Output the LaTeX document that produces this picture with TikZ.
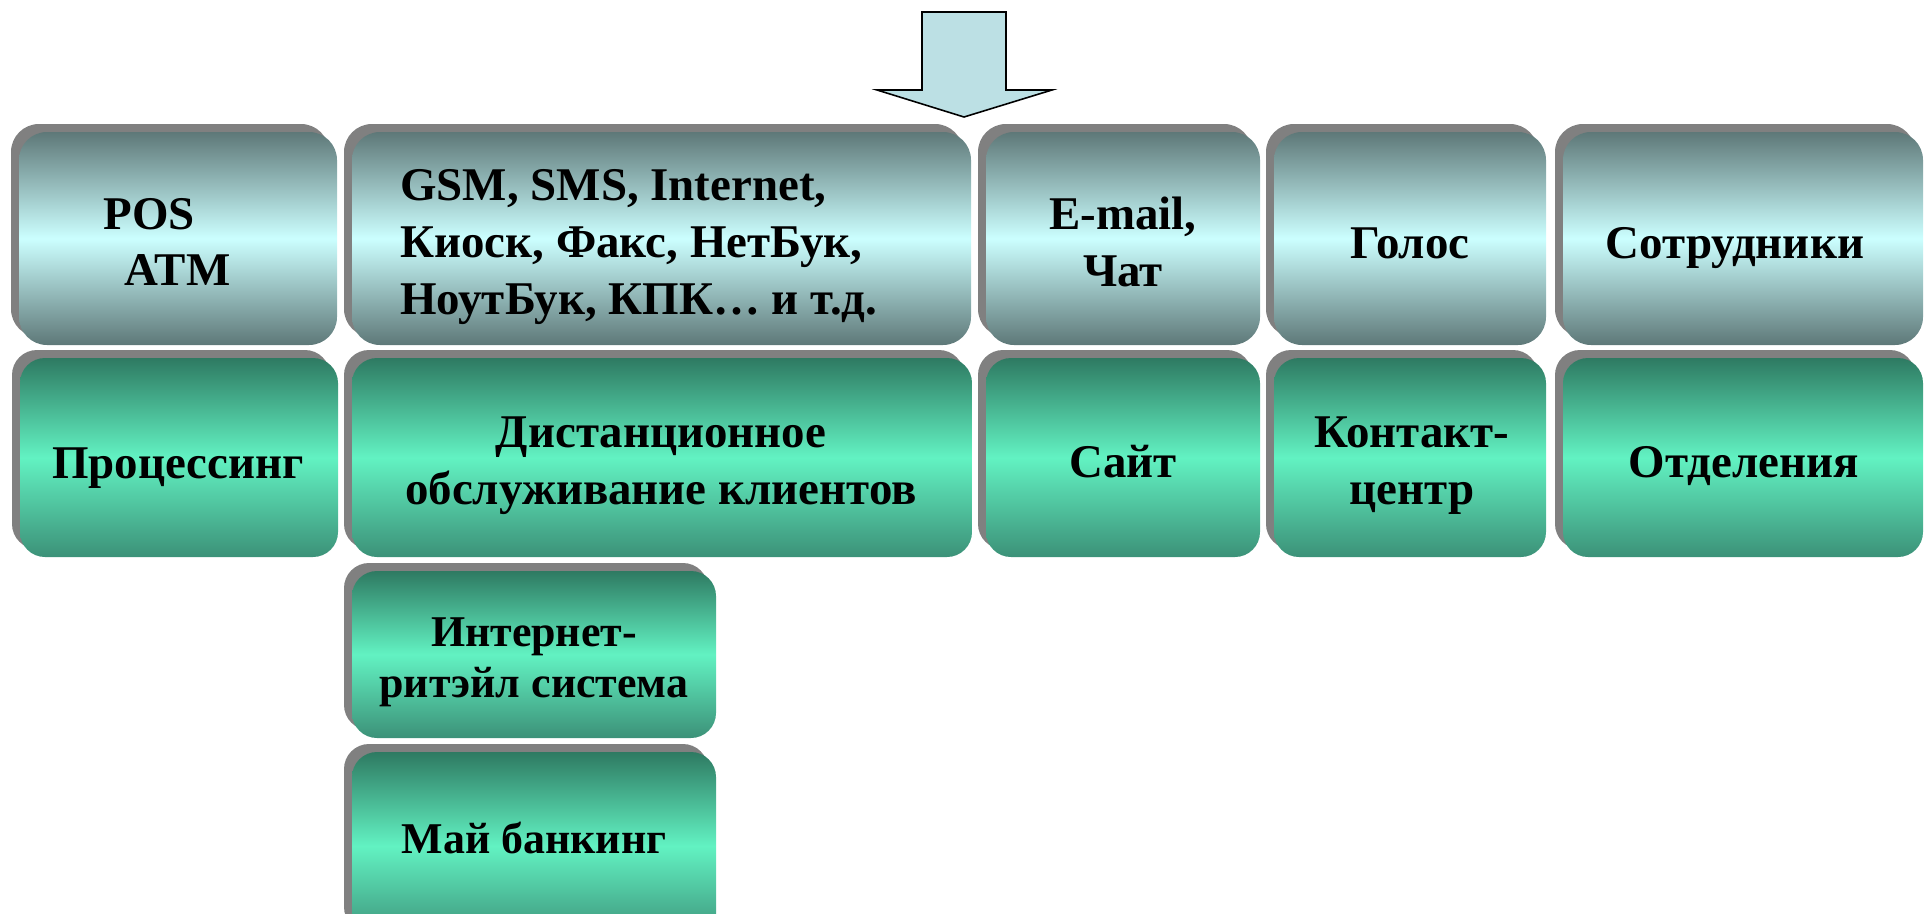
\documentclass[tikz,border=0pt]{standalone}
\usepackage{fontspec}
\setmainfont{Liberation Serif}
\usetikzlibrary{shadows}
\definecolor{grisSombra}{RGB}{128,128,128}
\definecolor{azulOscuro}{RGB}{94,120,120}
\definecolor{azulClaro}{RGB}{204,255,255}
\definecolor{verdeOscuro}{RGB}{46,122,98}
\definecolor{verdeClaro}{RGB}{98,242,194}
\definecolor{verdeMedio}{RGB}{60,145,120}
\definecolor{azulFlecha}{RGB}{188,224,228}

\begin{document}
\begin{tikzpicture}[x=0.02cm, y=-0.02cm,
    sombra/.style={drop shadow={shadow xshift=-0.16cm, shadow yshift=0.16cm, fill=grisSombra, opacity=1}},
    canal/.style={sombra, rounded corners=0.56cm, top color=azulOscuro, bottom color=azulOscuro, middle color=azulClaro},
    sistema/.style={sombra, rounded corners=0.5cm, top color=verdeOscuro, bottom color=verdeMedio, middle color=verdeClaro},
    texto/.style={inner sep=0, font=\bfseries\fontsize{26.7}{32.4}\selectfont, align=center},
    textochico/.style={texto, font=\bfseries\fontsize{25}{29}\selectfont}]
    \useasboundingbox (0,0) rectangle (1927,913);
    \clip (0,0) rectangle (1927,913);

    % Flecha de entrada
    \draw[fill=azulFlecha, line width=0.9pt] (922,12) -- (1006,12) -- (1006,90) -- (1052,90) -- (964,117) -- (877,90) -- (922,90) -- cycle;

    % Canales (fila superior)
    \path[canal] (19,132) rectangle (337,345);
    \path[canal] (352,132) rectangle (971,345);
    \path[canal] (986,132) rectangle (1260,345);
    \path[canal] (1274,132) rectangle (1546,345);
    \path[canal] (1563,132) rectangle (1923,345);

    % Sistemas (segunda fila)
    \path[sistema] (20,358) rectangle (338,557);
    \path[sistema] (352,358) rectangle (972,557);
    \path[sistema] (986,358) rectangle (1260,557);
    \path[sistema] (1274,358) rectangle (1546,557);
    \path[sistema] (1563,358) rectangle (1923,557);

    % Subsistemas
    \path[sistema] (352,571) rectangle (716,738);
    \path[sistema] (352,752) rectangle (716,940);

    % Textos
    \node[texto, align=left] (pos) at (167,242) {POS\\\hspace{0.42cm}ATM};
    \node[texto, align=left, anchor=west] (gsm) at (400,247) {GSM, SMS, Internet,\\Киоск, Факс, НетБук,\\НоутБук, КПК… и т.д.};
    \node[texto] (email) at (1123,242) {E-mail,\\Чат};
    \node[texto, anchor=base] (golos) at (1410,258) {Голос};
    \node[texto, anchor=base] (sotr) at (1735,258) {Сотрудники};

    \node[texto, anchor=base] (proc) at (178,478) {Процессинг};
    \node[texto] (dist) at (661,466) {Дистанционное\\обслуживание клиентов};
    \node[texto, anchor=base] (sait) at (1123,477) {Сайт};
    \node[texto] (kontakt) at (1412,466) {Контакт-\\центр};
    \node[texto, anchor=base] (otd) at (1744,477) {Отделения};

    \node[textochico] (retail) at (534,662) {Интернет-\\ритэйл система};
    \node[textochico, anchor=base] (mybank) at (534,853) {Май банкинг};
\end{tikzpicture}
\end{document}
